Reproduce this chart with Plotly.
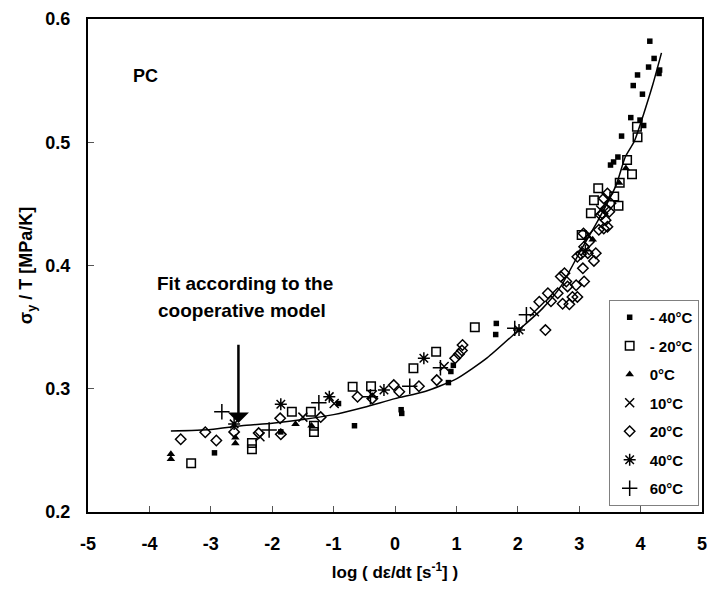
import plotly.graph_objects as go

# ---- data ----
x_m40 = [-2.94, -1.86, -0.92, -0.66, 0.10, 0.11, 0.87, 0.91, 0.95, 1.64, 1.65, 3.51, 3.56, 3.63, 3.69,
         3.84, 3.88, 3.95, 3.99, 4.03, 4.05, 4.13, 4.15, 4.22, 4.30, 4.31]
y_m40 = [0.248, 0.265, 0.288, 0.270, 0.283, 0.280, 0.305, 0.314, 0.319, 0.344, 0.353, 0.4815, 0.484, 0.488, 0.505,
         0.520, 0.546, 0.5546, 0.518, 0.539, 0.5136, 0.561, 0.582, 0.568, 0.5558, 0.5586]

x_m20 = [-3.32, -2.33, -2.33, -1.68, -1.37, -1.32, -1.32, -0.69, -0.39, 0.30, 0.67, 1.30, 3.04, 3.19, 3.24,
         3.31, 3.57, 3.64, 3.66, 3.78, 3.86, 3.94, 3.95]
y_m20 = [0.2395, 0.256, 0.251, 0.2814, 0.2814, 0.270, 0.265, 0.3017, 0.302, 0.3166, 0.330, 0.350, 0.4247, 0.4423, 0.453,
         0.4626, 0.456, 0.4485, 0.4672, 0.4856, 0.474, 0.5126, 0.504]

x_0 = [-3.65, -3.65, -2.60, -2.60, -1.62, -1.36, 3.22, 3.65, 3.76]
y_0 = [0.247, 0.243, 0.2603, 0.2557, 0.2714, 0.270, 0.421, 0.467, 0.4789]

x_10 = [-2.20, -1.50, -0.99, -0.37, 0.80, 2.27, 3.15, 3.35]
y_10 = [0.261, 0.277, 0.288, 0.295, 0.318, 0.3625, 0.425, 0.445]

x_20 = [-3.49, -3.09, -2.91, -2.62, -2.22, -1.86, -1.87, -1.21, -0.61, -0.37, -0.02, 0.07, 0.39, 0.68,
        0.98, 1.04, 1.09, 1.10, 2.45, 2.35, 2.49, 2.54, 2.65, 2.73, 2.84, 2.89, 2.97, 2.70, 2.76, 2.81,
        2.95, 3.08, 2.79, 3.06, 2.97, 3.03, 3.14, 3.24, 3.27, 3.07, 3.32, 3.40, 3.46, 3.38, 3.43, 3.49,
        3.51, 3.46, 3.40, 3.35, 3.43, 3.16, 3.08]
y_20 = [0.259, 0.2647, 0.258, 0.265, 0.264, 0.263, 0.276, 0.277, 0.2935, 0.292, 0.303, 0.2976, 0.302, 0.307,
        0.3247, 0.328, 0.331, 0.3355, 0.3476, 0.3706, 0.3775, 0.371, 0.3775, 0.369, 0.3685, 0.3745, 0.3745, 0.391, 0.3937, 0.383,
        0.384, 0.387, 0.387, 0.3977, 0.4071, 0.4093, 0.410, 0.4037, 0.410, 0.426, 0.429, 0.430, 0.4315, 0.442, 0.446, 0.4436,
        0.4505, 0.4585, 0.4544, 0.4409, 0.4368, 0.4192, 0.4152]

x_40 = [-2.62, -1.86, -1.07, -0.18, 0.47, 2.02, 3.10]
y_40 = [0.2715, 0.2874, 0.2936, 0.299, 0.3247, 0.3476, 0.412]

x_60 = [-2.82, -2.05, -1.24, -0.40, 0.24, 0.74, 1.95, 2.14]
y_60 = [0.2813, 0.2665, 0.2887, 0.2935, 0.302, 0.317, 0.349, 0.360]

x_fit = [-3.65, -3.0, -2.5, -2.0, -1.5, -1.0, -0.5, 0.0, 0.5, 1.0, 1.5, 2.0, 2.4, 2.7, 3.0, 3.3, 3.6,
         3.75, 3.9, 4.05, 4.2, 4.34]
y_fit = [0.2657, 0.267, 0.270, 0.272, 0.275, 0.279, 0.285, 0.292, 0.298, 0.308, 0.325, 0.347, 0.365, 0.383,
         0.410, 0.436, 0.465, 0.488, 0.501, 0.523, 0.547, 0.5725]

x_ticks = [-5, -4, -3, -2, -1, 0, 1, 2, 3, 4, 5]
x_ticklabels = ["-5", "-4", "-3", "-2", "-1", "0", "1", "2", "3", "4", "5"]
y_ticks = [0.2, 0.3, 0.4, 0.5, 0.6]
y_ticklabels = ["0.2", "0.3", "0.4", "0.5", "0.6"]

FONT = "Liberation Sans, Arial, sans-serif"

series = [
    ("- 40°C", x_m40, y_m40, dict(symbol="square", size=5.5, color="black")),
    ("- 20°C", x_m20, y_m20, dict(symbol="square-open", size=8.5, color="black", line=dict(width=1.5, color="black"))),
    ("0°C", x_0, y_0, dict(symbol="triangle-up", size=7.5, color="black")),
    ("10°C", x_10, y_10, dict(symbol="x-thin-open", size=9, color="black", line=dict(width=1.5, color="black"))),
    ("20°C", x_20, y_20, dict(symbol="diamond-open", size=8, color="black", line=dict(width=1.5, color="black"))),
    ("40°C", x_40, y_40, dict(symbol="asterisk-open", size=10, color="black", line=dict(width=1.5, color="black"))),
    ("60°C", x_60, y_60, dict(symbol="cross-thin-open", size=11, color="black", line=dict(width=1.5, color="black"))),
]

fig = go.Figure()
fig.add_trace(go.Scatter(x=x_fit, y=y_fit, mode="lines", line=dict(color="black", width=1.5, shape="spline", smoothing=0.6),
                         showlegend=False, hoverinfo="skip"))
for i, (name, xs, ys, mk) in enumerate(series):
    fig.add_trace(go.Scatter(x=xs, y=ys, mode="markers", name=name, marker=mk, legendgroup=f"g{i}"))

fig.add_annotation(x=-4.06, y=0.554, text="PC", showarrow=False, xref="x", yref="y",
                   font=dict(family=FONT, size=18, color="black", weight=700))
fig.add_annotation(x=-2.44, y=0.3855, text="Fit according to the", showarrow=False, xref="x", yref="y",
                   font=dict(family=FONT, size=19, color="black", weight=700))
fig.add_annotation(x=-2.49, y=0.3638, text="cooperative model", showarrow=False, xref="x", yref="y",
                   font=dict(family=FONT, size=19, color="black", weight=700))
fig.add_annotation(x=-2.55, y=0.2722, ax=-2.55, ay=0.337, axref="x", ayref="y", xref="x", yref="y",
                   text="", showarrow=True, arrowhead=1, arrowsize=1.4, arrowwidth=2.5, arrowcolor="black")

fig.update_layout(
    width=712, height=589,
    margin=dict(l=88, r=5, t=19, b=77),
    paper_bgcolor="white", plot_bgcolor="white",
    font=dict(family=FONT, color="black"),
    legend=dict(x=0.848, y=0.43, xanchor="left", yanchor="top",
                bordercolor="#808080", borderwidth=1, bgcolor="white",
                font=dict(family=FONT, size=15, color="black", weight=700),
                tracegroupgap=6, itemwidth=30),
    xaxis=dict(range=[-5, 5], tickvals=x_ticks, ticktext=x_ticklabels, ticks="inside", ticklen=6, tickcolor="#555",
               showline=True, linecolor="black", linewidth=2, mirror=True, showgrid=False, zeroline=False,
               tickfont=dict(family=FONT, size=18, color="black", weight=700), ticklabelstandoff=14,
               title=dict(text="log ( d\u03b5/dt [s<sup>-1</sup>] )", standoff=14,
                          font=dict(family=FONT, size=17, color="black", weight=700))),
    yaxis=dict(range=[0.2, 0.6], tickvals=y_ticks, ticktext=y_ticklabels, ticks="inside", ticklen=6, tickcolor="#555",
               showline=True, linecolor="black", linewidth=2, mirror=True, showgrid=False, zeroline=False,
               tickfont=dict(family=FONT, size=18, color="black", weight=700), ticklabelstandoff=12,
               title=dict(text="\u03c3<sub>y</sub> / T [MPa/K]", standoff=8,
                          font=dict(family=FONT, size=18, color="black", weight=700))),
)

fig.write_html("out.html")
